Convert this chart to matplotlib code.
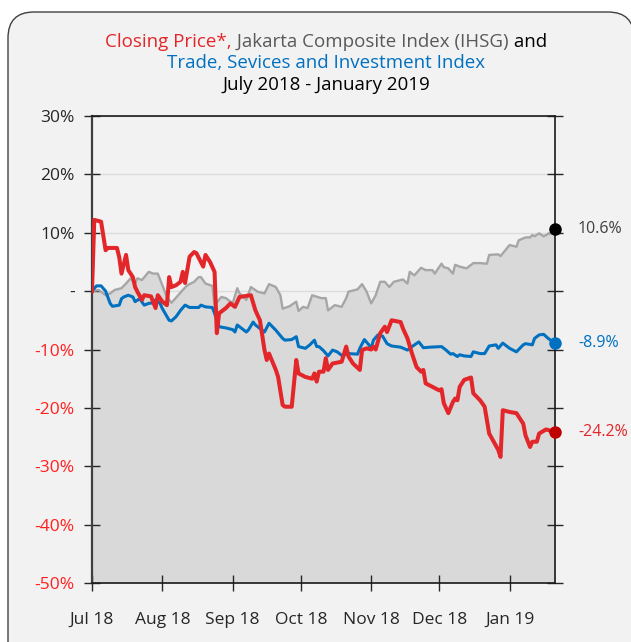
import matplotlib
matplotlib.use("Agg")
import matplotlib.pyplot as plt
import matplotlib.dates as mdates
from matplotlib.patches import FancyBboxPatch
import pandas as pd

plt.rcParams['font.family'] = ['Open Sans', 'DejaVu Sans']

# --- data (percent change since start of July 2018) ---
price_dates = ['2018-07-01', '2018-07-02', '2018-07-05', '2018-07-07', '2018-07-08', '2018-07-12',
               '2018-07-13', '2018-07-14', '2018-07-16', '2018-07-17', '2018-07-19', '2018-07-20',
               '2018-07-21', '2018-07-23', '2018-07-24', '2018-07-27', '2018-07-29', '2018-07-30',
               '2018-08-01', '2018-08-03', '2018-08-04', '2018-08-05', '2018-08-07', '2018-08-09',
               '2018-08-10', '2018-08-11', '2018-08-13', '2018-08-15', '2018-08-16', '2018-08-19',
               '2018-08-20', '2018-08-22', '2018-08-24', '2018-08-25', '2018-08-26', '2018-08-29',
               '2018-08-31', '2018-09-02', '2018-09-04', '2018-09-09', '2018-09-11', '2018-09-13',
               '2018-09-15', '2018-09-16', '2018-09-17', '2018-09-20', '2018-09-21', '2018-09-23',
               '2018-09-24', '2018-09-27', '2018-09-29', '2018-09-30', '2018-10-03', '2018-10-06',
               '2018-10-07', '2018-10-08', '2018-10-09', '2018-10-11', '2018-10-12', '2018-10-13',
               '2018-10-15', '2018-10-19', '2018-10-21', '2018-10-22', '2018-10-24', '2018-10-27',
               '2018-10-28', '2018-10-30', '2018-11-01', '2018-11-02', '2018-11-03', '2018-11-05',
               '2018-11-07', '2018-11-08', '2018-11-10', '2018-11-14', '2018-11-15', '2018-11-17',
               '2018-11-19', '2018-11-21', '2018-11-23', '2018-11-24', '2018-11-25', '2018-11-28',
               '2018-12-01', '2018-12-02', '2018-12-03', '2018-12-05', '2018-12-07', '2018-12-08',
               '2018-12-09', '2018-12-10', '2018-12-12', '2018-12-15', '2018-12-16', '2018-12-19',
               '2018-12-21', '2018-12-23', '2018-12-25', '2018-12-27', '2018-12-28', '2018-12-29',
               '2019-01-01', '2019-01-04', '2019-01-07', '2019-01-08', '2019-01-10', '2019-01-11',
               '2019-01-13', '2019-01-14', '2019-01-17', '2019-01-19', '2019-01-21']
price_vals = [0.0, 12.2, 11.9, 7.0, 7.4, 7.4, 5.8, 3.0, 6.2, 3.6, 2.4, 0.7,
              -0.1, -1.5, -0.7, -0.9, -2.9, -0.7, -1.8, -2.4, 2.4, 0.7, 1.0, 1.6,
              3.3, 1.4, 5.9, 6.7, 6.5, 4.2, 6.2, 5.0, 3.3, -7.2, -3.8, -2.9,
              -2.1, -2.7, -1.0, -0.7, -3.3, -5.0, -10.1, -11.8, -10.7, -13.5, -14.7, -19.5,
              -19.8, -19.8, -11.8, -14.1, -14.7, -15.0, -14.1, -15.5, -13.8, -13.8, -11.5, -13.5,
              -12.4, -12.1, -9.5, -11.2, -12.4, -13.5, -10.1, -9.8, -10.0, -9.5, -10.0, -7.2,
              -6.1, -7.0, -5.0, -5.3, -6.4, -8.1, -10.7, -13.0, -13.8, -13.5, -15.8, -16.4,
              -17.0, -16.8, -19.2, -20.9, -19.0, -18.4, -18.7, -16.4, -15.2, -14.8, -17.5, -18.7,
              -19.8, -24.4, -25.8, -27.2, -28.4, -20.4, -20.7, -20.9, -22.7, -24.7, -26.7, -25.8,
              -25.8, -24.4, -23.7, -23.9, -24.2]

trade_dates = ['2018-07-01', '2018-07-03', '2018-07-05', '2018-07-07', '2018-07-09', '2018-07-10',
               '2018-07-13', '2018-07-14', '2018-07-15', '2018-07-17', '2018-07-19', '2018-07-20',
               '2018-07-22', '2018-07-24', '2018-07-26', '2018-07-28', '2018-07-29', '2018-07-31',
               '2018-08-01', '2018-08-04', '2018-08-05', '2018-08-07', '2018-08-09', '2018-08-11',
               '2018-08-13', '2018-08-17', '2018-08-18', '2018-08-20', '2018-08-23', '2018-08-24',
               '2018-08-26', '2018-08-29', '2018-09-01', '2018-09-02', '2018-09-03', '2018-09-05',
               '2018-09-07', '2018-09-08', '2018-09-10', '2018-09-11', '2018-09-13', '2018-09-15',
               '2018-09-17', '2018-09-20', '2018-09-23', '2018-09-24', '2018-09-27', '2018-09-29',
               '2018-09-30', '2018-10-03', '2018-10-05', '2018-10-07', '2018-10-08', '2018-10-09',
               '2018-10-11', '2018-10-13', '2018-10-15', '2018-10-17', '2018-10-19', '2018-10-22',
               '2018-10-26', '2018-10-27', '2018-10-29', '2018-10-31', '2018-11-01', '2018-11-02',
               '2018-11-04', '2018-11-06', '2018-11-08', '2018-11-10', '2018-11-14', '2018-11-17',
               '2018-11-19', '2018-11-22', '2018-11-24', '2018-11-27', '2018-12-02', '2018-12-04',
               '2018-12-06', '2018-12-07', '2018-12-09', '2018-12-10', '2018-12-12', '2018-12-15',
               '2018-12-16', '2018-12-19', '2018-12-21', '2018-12-23', '2018-12-26', '2018-12-27',
               '2018-12-29', '2019-01-01', '2019-01-04', '2019-01-07', '2019-01-08', '2019-01-11',
               '2019-01-12', '2019-01-14', '2019-01-16', '2019-01-18', '2019-01-21']
trade_vals = [0.0, 0.9, 0.9, 0.0, -2.1, -2.6, -2.4, -1.3, -1.0, -0.7, -1.0, -1.8,
              -1.3, -2.4, -2.1, -2.0, -1.5, -2.1, -3.0, -5.0, -5.1, -4.4, -3.3, -2.4,
              -2.8, -2.8, -2.4, -2.7, -2.8, -3.8, -6.1, -6.3, -6.6, -7.0, -5.8, -6.4,
              -7.0, -6.6, -5.3, -5.8, -6.4, -7.0, -5.5, -6.7, -8.1, -8.4, -8.3, -7.8,
              -9.5, -9.8, -9.2, -8.4, -9.5, -9.5, -10.2, -11.1, -10.1, -10.4, -11.0, -10.7,
              -10.8, -9.8, -8.3, -9.2, -9.8, -8.4, -7.5, -7.7, -9.0, -9.4, -9.6, -10.1,
              -9.5, -8.7, -9.7, -9.6, -9.5, -10.1, -10.8, -10.7, -11.2, -10.9, -11.1, -11.2,
              -10.4, -10.7, -10.7, -9.4, -9.2, -9.8, -8.9, -9.8, -10.4, -9.2, -9.0, -9.2,
              -8.1, -7.5, -7.4, -8.1, -8.9]

ihsg_dates = ['2018-07-01', '2018-07-04', '2018-07-07', '2018-07-09', '2018-07-11', '2018-07-14',
              '2018-07-16', '2018-07-18', '2018-07-20', '2018-07-21', '2018-07-23', '2018-07-26',
              '2018-07-28', '2018-07-30', '2018-08-01', '2018-08-03', '2018-08-04', '2018-08-05',
              '2018-08-08', '2018-08-10', '2018-08-12', '2018-08-15', '2018-08-17', '2018-08-18',
              '2018-08-20', '2018-08-23', '2018-08-24', '2018-08-27', '2018-08-29', '2018-09-01',
              '2018-09-03', '2018-09-04', '2018-09-05', '2018-09-07', '2018-09-09', '2018-09-12',
              '2018-09-15', '2018-09-17', '2018-09-20', '2018-09-22', '2018-09-23', '2018-09-26',
              '2018-09-29', '2018-09-30', '2018-10-02', '2018-10-04', '2018-10-06', '2018-10-10',
              '2018-10-12', '2018-10-13', '2018-10-16', '2018-10-19', '2018-10-21', '2018-10-22',
              '2018-10-26', '2018-10-28', '2018-10-30', '2018-11-01', '2018-11-03', '2018-11-05',
              '2018-11-07', '2018-11-09', '2018-11-11', '2018-11-15', '2018-11-17', '2018-11-18',
              '2018-11-20', '2018-11-23', '2018-11-25', '2018-11-28', '2018-11-29', '2018-12-02',
              '2018-12-03', '2018-12-05', '2018-12-07', '2018-12-08', '2018-12-10', '2018-12-13',
              '2018-12-16', '2018-12-19', '2018-12-22', '2018-12-23', '2018-12-27', '2018-12-28',
              '2019-01-01', '2019-01-03', '2019-01-04', '2019-01-05', '2019-01-08', '2019-01-10',
              '2019-01-11', '2019-01-12', '2019-01-14', '2019-01-16', '2019-01-19', '2019-01-21']
ihsg_vals = [0.0, 0.2, -0.7, -0.4, 0.2, 0.5, 1.3, 2.2, 1.3, 2.2, 1.9, 3.3,
             3.0, 3.0, 1.0, -1.0, -1.5, -2.0, -0.7, 0.2, 1.0, 1.6, 2.4, 2.4,
             1.3, 0.9, -2.4, -1.0, -1.2, -2.1, 0.5, -0.4, -0.7, -1.5, 0.7, -0.1,
             -0.4, 1.2, 0.7, -0.7, -3.0, -2.6, -1.8, -3.4, -2.7, -2.9, -0.7, -1.2,
             -1.2, -3.3, -2.4, -2.7, -1.2, -0.1, 0.3, 1.2, -0.1, -2.1, -0.7, 1.6,
             1.6, 0.7, 1.6, 2.0, 1.3, 3.3, 2.7, 4.0, 3.6, 3.6, 3.0, 4.7,
             4.1, 3.9, 3.0, 4.5, 4.2, 3.9, 4.8, 4.8, 4.7, 6.2, 6.3, 6.0,
             7.9, 7.7, 7.6, 8.7, 9.2, 9.2, 9.6, 9.4, 9.9, 9.4, 10.0, 10.6]

y_ticks = [30, 20, 10, 0, -10, -20, -30, -40, -50]
y_labels = ['30%', '20%', '10%', '-', '-10%', '-20%', '-30%', '-40%', '-50%']
month_ticks = ['2018-07-01', '2018-08-01', '2018-09-01', '2018-10-01',
               '2018-11-01', '2018-12-01', '2019-01-01']

RED = '#e3262a'
BLUE = '#0070c0'
GREY_LINE = '#a6a6a6'
FILL = '#d9d9d9'
BG = '#f2f2f2'

W, H = 631, 642
fig = plt.figure(figsize=(W / 100, H / 100), dpi=100)
fig.patch.set_facecolor('white')

panel = FancyBboxPatch((8, -30), 626, 660, boxstyle='round,pad=0,rounding_size=26',
                       transform=None, facecolor=BG, edgecolor='#404040', linewidth=1.0,
                       zorder=-10)
fig.patches.append(panel)

ax = fig.add_axes([92 / W, 1 - 583 / H, 463 / W, 467 / H])
ax.set_facecolor(BG)

pd_price = pd.to_datetime(price_dates)
pd_trade = pd.to_datetime(trade_dates)
pd_ihsg = pd.to_datetime(ihsg_dates)

for yv in y_ticks:
    ax.axhline(yv, color='#dcdcdc', lw=1, zorder=0.5)

ax.fill_between(pd_ihsg, ihsg_vals, -50, color=FILL, lw=0, zorder=1)
ax.plot(pd_ihsg, ihsg_vals, color=GREY_LINE, lw=1.7, zorder=2)
ax.plot(pd_trade, trade_vals, color=BLUE, lw=2.2, zorder=3)
ax.plot(pd_price, price_vals, color=RED, lw=2.9, zorder=4, solid_joinstyle='round')

# end markers and value labels
ends = [(pd_ihsg[-1], ihsg_vals[-1], 'black', '#404040'),
        (pd_trade[-1], trade_vals[-1], BLUE, BLUE),
        (pd_price[-1], price_vals[-1], '#c00000', RED)]
for d, v, mc, tc in ends:
    ax.plot([d], [v], 'o', color=mc, ms=8, zorder=6, clip_on=False)
    ax.annotate(f'{v:.1f}%', xy=(d, v), xytext=(23, 0), textcoords='offset pixels',
                va='center', ha='left', color=tc, fontsize=11.5)

ax.set_xlim(pd.Timestamp('2018-07-01'), pd.Timestamp('2019-01-21'))
ax.set_ylim(-50, 30)

ax.set_yticks(y_ticks)
ax.set_yticklabels(y_labels)
for lab, yv in zip(ax.get_yticklabels(), y_ticks):
    lab.set_color('#262626' if yv >= 0 else '#ff2020')
ax.tick_params(axis='y', which='both', direction='inout', length=11, width=1,
               labelsize=12.5, pad=7, right=True, color='#262626')

ax.set_xticks(pd.to_datetime(month_ticks))
ax.xaxis.set_major_formatter(mdates.DateFormatter('%b %y'))
ax.tick_params(axis='x', direction='inout', length=12, width=1, labelsize=12.5,
               pad=15, colors='#262626')

for side in ['top', 'right', 'bottom']:
    ax.spines[side].set_color('#1a1a1a')
    ax.spines[side].set_linewidth(1.2)
ax.spines['left'].set_color('#404040')
ax.spines['left'].set_linewidth(1.6)

# multi-coloured title lines
renderer = fig.canvas.get_renderer()
xc = 326


def title_line(y_px, parts, size=13.5):
    texts = [fig.text(0, 1 - y_px / H, s, color=c, fontsize=size, ha='left', va='center')
             for s, c in parts]
    widths = [t.get_window_extent(renderer).width for t in texts]
    x = xc - sum(widths) / 2
    for t, w in zip(texts, widths):
        t.set_x(x / W)
        x += w


title_line(42, [('Closing Price*,', RED), (' Jakarta Composite Index (IHSG)', '#595959'),
                (' and', 'black')])
title_line(63, [('Trade, Sevices and Investment Index', BLUE)])
title_line(85, [('July 2018 - January 2019', 'black')])

fig.savefig('out.png', dpi=100, facecolor='white')
